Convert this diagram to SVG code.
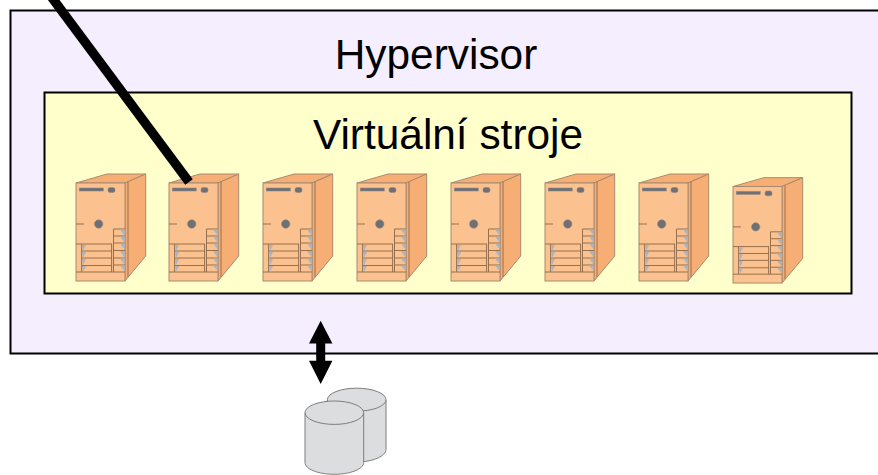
<svg xmlns="http://www.w3.org/2000/svg" xmlns:xlink="http://www.w3.org/1999/xlink" width="878" height="475" viewBox="0 0 878 475">
<style>
.t{font-family:"Liberation Sans",Arial,sans-serif;font-size:42.4px;fill:#000}
.o{fill:#fbc18e;stroke:#a88a70;stroke-width:1}
.s{fill:#f7ae75;stroke:#a88a70;stroke-width:1}
.l{fill:none;stroke:#96704f;stroke-width:1}
.g{fill:#6f7074;stroke:#8b8580;stroke-width:.5}
.b{fill:#aab4c0;stroke:none}
.c{fill:#dcddde;stroke:#7d7d7d;stroke-width:1}
</style>
<defs>
<g id="server">
<path class="s" d="M0 0L31 -9H69.7L49 0Z"/>
<path class="s" d="M49 0L69.7 -9V73L49 98Z"/>
<rect class="o" x="0" y="0" width="49" height="98"/>
<path class="l" d="M52 -1V94"/>
<rect class="g" x="3.3" y="5" width="24" height="3"/>
<rect class="g" x="32" y="4.500" width="7" height="5" rx="2"/>
<circle class="g" cx="22.700" cy="41" r="4.200"/>
<path class="l" d="M0 41H8M0 61H36M5.600 61V89M35.600 61V89M37.500 46V89M6 68H36M6 75H36M6 82.500H36M0 89H49M37.500 46H49M37.500 53H49M37.500 60H49M37.500 67.500H49M37.500 75H49M37.500 82H49"/>
<path class="b" d="M6 62H10L7 68ZM6 69H10L7 75ZM6 76H10L7 82ZM6 83H10L7 88.500Z"/>
<path class="b" d="M44 46.500H49V53ZM44 53.500H49V60ZM44 60.500H49V67ZM44 68H49V75ZM44 75.500H49V82ZM44 82.500H49V88.500Z"/>
</g>
</defs>
<g id="hypervisor">
<rect x="10.500" y="10.500" width="872" height="343" fill="#f5eeff" stroke="#000" stroke-width="2"/>
<text class="t" x="436" y="69" text-anchor="middle">Hypervisor</text>
</g>
<g id="virtual-machines">
<rect x="44.500" y="92.500" width="807" height="201" fill="#ffffcc" stroke="#000" stroke-width="2"/>
<text class="t" x="448" y="149" text-anchor="middle">Virtuální stroje</text>
</g>
<g id="vm1"><use href="#server" x="76" y="183"/></g>
<g id="vm2"><use href="#server" x="169" y="183"/></g>
<g id="vm3"><use href="#server" x="263" y="183"/></g>
<g id="vm4"><use href="#server" x="357" y="183"/></g>
<g id="vm5"><use href="#server" x="451" y="183"/></g>
<g id="vm6"><use href="#server" x="545" y="183"/></g>
<g id="vm7"><use href="#server" x="639" y="183"/></g>
<g id="vm8"><use href="#server" transform="translate(733 186.500) scale(1 .985)"/></g>
<g id="storage">
<path class="c" d="M327.400 400V449.500C327.400 456 340 462 356.700 462C373 462 386 456 386 449.500V400Z"/>
<ellipse class="c" cx="356.700" cy="399.700" rx="29.300" ry="11.500"/>
<path class="c" d="M305 413V462.500C305 469 318 474.300 334.300 474.300C350.500 474.300 363.700 469 363.700 462.500V413Z"/>
<ellipse class="c" cx="334.300" cy="412.700" rx="29.300" ry="11.700"/>
</g>
<g id="connectors">
<path d="M50 -5L189 182" fill="none" stroke="#000" stroke-width="9.400"/>
<path d="M320.700 320.700L332.400 343.500H325.200V360.700H332.400L320.700 384L309 360.700H316.200V343.500H309Z" fill="#000"/>
</g>
</svg>
